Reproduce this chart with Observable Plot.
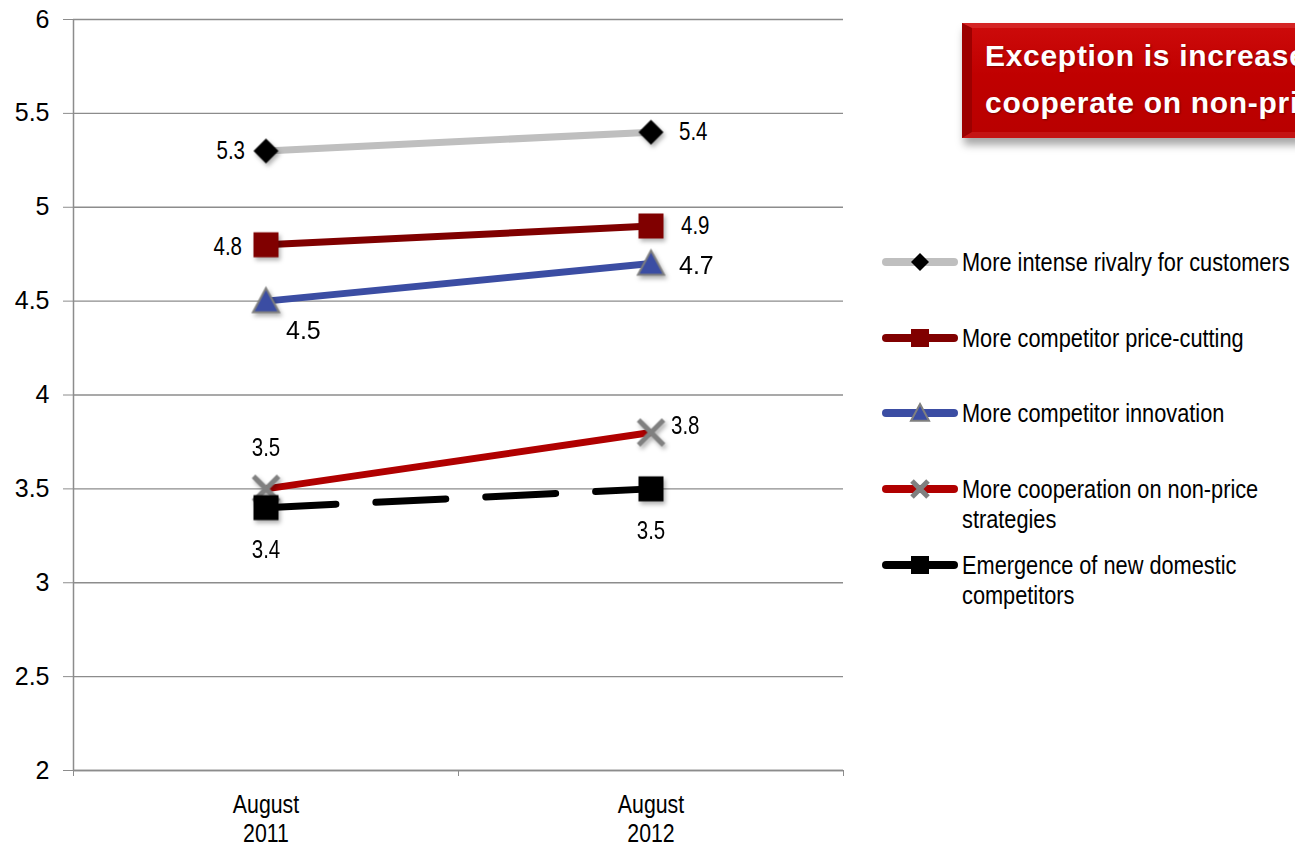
<!DOCTYPE html>
<html>
<head>
<meta charset="utf-8">
<script src="https://cdn.jsdelivr.net/npm/d3@7"></script>
<script src="https://cdn.jsdelivr.net/npm/@observablehq/plot@0.6"></script>
<style>
  html, body { margin: 0; padding: 0; background: #fff; overflow: hidden; width: 1295px; height: 845px; }
  #wrap { position: relative; width: 1295px; height: 845px; overflow: hidden; }
  #chart { position: absolute; left: 0; top: 0; }
  #banner {
    position: absolute; left: 962px; top: 23px; width: 420px; height: 100px;
    box-sizing: content-box;
    border-left: 10px solid #9c0000; border-top: 5px solid #d42424; border-bottom: 6px solid #c41414;
    background: linear-gradient(to bottom, #cc0a0a 0%, #c00000 45%, #b90000 100%);
    box-shadow: 2px 7px 8px rgba(0,0,0,0.35);
    color: #fff; font-family: "Liberation Sans", Arial, sans-serif; font-weight: bold; font-size: 30px;
    letter-spacing: 0.7px;
    line-height: 47px; padding-left: 13px; padding-top: 4px; white-space: nowrap;
    text-shadow: 1px 1px 2px rgba(0,0,0,0.35);
  }
  #legend { position: absolute; left: 0; top: 0; }
  .lg-row { position: absolute; left: 880px; display: flex; align-items: flex-start; }
  .lg-row svg { display: block; flex: none; }
  .lg-text { font-family: "Liberation Sans", Arial, sans-serif; font-size: 25px; line-height: 30px; color: #000;
             margin-left: 2px; width: 385px; flex: none; transform: scaleX(0.87); transform-origin: left top; }
</style>
</head>
<body>
<div id="wrap">
  <div id="chart"></div>
  <div id="banner">Exception is increased<br>cooperate on non-price</div>
  <div id="legend"></div>
</div>
<script>
// ---------------- data ----------------
const periods = ["August 2011", "August 2012"];
const periodLabels = ["August\n2011", "August\n2012"];
const seriesNames = [
  "More intense rivalry for customers",
  "More competitor price-cutting",
  "More competitor innovation",
  "More cooperation on non-price strategies",
  "Emergence of new domestic competitors"
];
const rivalry = [5.3, 5.4];
const priceCutting = [4.8, 4.9];
const innovation = [4.5, 4.7];
const cooperation = [3.5, 3.8];
const newCompetitors = [3.4, 3.5];
const yTicks = [2, 2.5, 3, 3.5, 4, 4.5, 5, 5.5, 6];
const valueLists = [rivalry, priceCutting, innovation, cooperation, newCompetitors];

// ---------------- symbols ----------------
const rOf = (size) => Math.sqrt(size / Math.PI);
const diamondSym = { draw(ctx, size) { const r = rOf(size); ctx.moveTo(0, -r); ctx.lineTo(r, 0); ctx.lineTo(0, r); ctx.lineTo(-r, 0); ctx.closePath(); } };
const squareSym = { draw(ctx, size) { const r = rOf(size); ctx.moveTo(-r, -r); ctx.lineTo(r, -r); ctx.lineTo(r, r); ctx.lineTo(-r, r); ctx.closePath(); } };
const triangleSym = { draw(ctx, size) { const r = rOf(size); ctx.moveTo(0, -r); ctx.lineTo(r, r * 0.85); ctx.lineTo(-r, r * 0.85); ctx.closePath(); } };
const timesSym = { draw(ctx, size) { const r = rOf(size); ctx.moveTo(-r, -r); ctx.lineTo(r, r); ctx.moveTo(-r, r); ctx.lineTo(r, -r); } };

// ---------------- styles ----------------
const seriesStyles = [
  { line: "#bfbfbf", dash: null, symbol: diamondSym, r: 12.5, fill: "#000000", stroke: "none", sw: 0, lr: 9 },
  { line: "#800000", dash: null, symbol: squareSym, r: 12.5, fill: "#800000", stroke: "none", sw: 0, lr: 9 },
  { line: "#3b4da3", dash: null, symbol: triangleSym, r: 13, fill: "#3b4da3", stroke: "#7f7f7f", sw: 2, lr: 9 },
  { line: "#b00000", dash: null, symbol: timesSym, r: 12.5, fill: "none", stroke: "#808080", sw: 5, lr: 8 },
  { line: "#000000", dash: "70,40", symbol: squareSym, r: 12.5, fill: "#000000", stroke: "none", sw: 0, lr: 9 }
];
const NARROW = "'Liberation Sans Narrow', 'Liberation Sans', Arial, sans-serif";
const REGULAR = "'Liberation Sans', Arial, sans-serif";
const NARROW_SCALE = 0.82;
// label placement per series / per period
const labelPlacement = [
  [{ a: "end", dx: -21, dy: 0, big: false }, { a: "start", dx: 28, dy: 0, big: false }],
  [{ a: "end", dx: -24, dy: 2, big: false }, { a: "start", dx: 30, dy: 0, big: false }],
  [{ a: "start", dx: 20, dy: 30, big: true }, { a: "start", dx: 28, dy: 2, big: true }],
  [{ a: "middle", dx: 0, dy: -41, big: false }, { a: "start", dx: 20, dy: -7, big: false }],
  [{ a: "middle", dx: 0, dy: 42, big: false }, { a: "middle", dx: 0, dy: 42, big: false }]
];

const rows = seriesNames.flatMap((s, si) => valueLists[si].map((v, i) => ({ series: s, si, period: periods[i], xi: i + 0.5, pi: i, value: v })));

const grid = "#8c8c8c";
const marks = [
  Plot.gridY(yTicks, { stroke: grid, strokeOpacity: 1, strokeWidth: 1.3 }),
  Plot.ruleX([0], { stroke: grid, strokeWidth: 1.5 }),
  Plot.ruleY([2], { stroke: grid, strokeWidth: 1.5 }),
  Plot.axisY({ ticks: yTicks, tickSize: 10, tickPadding: 14, fontSize: 25, fontFamily: REGULAR, stroke: grid, fill: "#000", tickFormat: (d) => String(d), label: null }),
  Plot.axisX({ ticks: [0, 1, 2], tickSize: 6, tickFormat: () => "", stroke: grid, label: null }),
  Plot.axisX({ ticks: [0.5, 1.5], tickSize: 0, tickPadding: 22, fontSize: 26, fontFamily: NARROW, lineHeight: 1.115, fill: "#000", tickFormat: (d) => periodLabels[Math.floor(d)], label: null })
];
seriesNames.forEach((s, si) => {
  const st = seriesStyles[si];
  const data = rows.filter((d) => d.si === si);
  marks.push(Plot.line(data, { x: "xi", y: "value", stroke: st.line, strokeWidth: 7, strokeLinecap: st.dash ? "round" : "butt", strokeDasharray: st.dash || undefined }));
  marks.push(Plot.dot(data, { x: "xi", y: "value", symbol: st.symbol, r: st.r, fill: st.fill, stroke: st.stroke, strokeWidth: st.sw }));
});
rows.forEach((d) => {
  const p = labelPlacement[d.si][d.pi];
  marks.push(Plot.text([d], { x: "xi", y: "value", text: (e) => e.value.toFixed(1), textAnchor: p.a, dx: p.dx, dy: p.dy, fontSize: p.big ? 25 : 25, fontFamily: p.big ? REGULAR : NARROW, fill: "#000" }));
});

const chart = Plot.plot({
  width: 860, height: 845,
  marginLeft: 73, marginRight: 17, marginTop: 19, marginBottom: 75,
  x: { type: "linear", domain: [0, 2], axis: null },
  y: { domain: [2, 6], axis: null },
  style: { fontFamily: REGULAR, background: "transparent", color: "#000", overflow: "visible" },
  marks
});
chart.querySelectorAll('g[aria-label="dot"]').forEach((g) => { g.style.filter = "drop-shadow(2px 3px 2px rgba(0,0,0,0.3))"; });
// condense texts that use the narrow face (no narrow font is installed)
chart.querySelectorAll("text").forEach((t) => {
  const g = t.closest("g[font-family]");
  const fam = (g && g.getAttribute("font-family")) || t.getAttribute("font-family") || "";
  if (!fam.includes("Narrow")) return;
  const tr = t.getAttribute("transform");
  if (tr) {
    t.setAttribute("transform", tr + ` scale(${NARROW_SCALE},1)`);
  } else {
    const x = +(t.getAttribute("x") || 0);
    t.setAttribute("transform", `translate(${x},0) scale(${NARROW_SCALE},1) translate(${-x},0)`);
  }
});
document.getElementById("chart").appendChild(chart);

// ---------------- legend ----------------
const legendTops = [262, 338, 413, 489, 565];
const legend = document.getElementById("legend");
seriesNames.forEach((s, si) => {
  const st = seriesStyles[si];
  const row = document.createElement("div");
  row.className = "lg-row";
  row.style.top = (legendTops[si] - 15) + "px";
  const svg = d3.create("svg").attr("width", 80).attr("height", 30);
  svg.append("line").attr("x1", 6).attr("x2", 74).attr("y1", 15).attr("y2", 15)
    .attr("stroke", st.line).attr("stroke-width", 8).attr("stroke-linecap", "round");
  const path = d3.path();
  st.symbol.draw(path, st.lr * st.lr * Math.PI);
  svg.append("path").attr("d", path.toString()).attr("transform", "translate(40,15)")
    .attr("fill", st.fill).attr("stroke", st.stroke === "none" ? null : st.stroke).attr("stroke-width", st.sw || null);
  row.appendChild(svg.node());
  const t = document.createElement("div");
  t.className = "lg-text";
  t.textContent = s;
  row.appendChild(t);
  legend.appendChild(row);
});
</script>
</body>
</html>
